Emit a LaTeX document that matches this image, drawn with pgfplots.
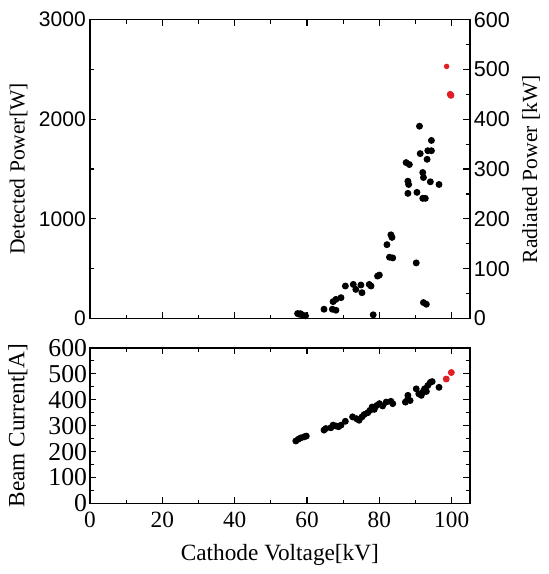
\documentclass[border=0pt]{standalone}
\usepackage{fontspec}
\setmainfont{Liberation Serif}
\newfontfamily\ticksans{Liberation Sans}
\usepackage{pgfplots}
\pgfplotsset{compat=1.18}
\usetikzlibrary{calc}
\definecolor{dotred}{RGB}{225,30,38}

\pgfplotsset{
  base/.style={
    scale only axis, width=155pt,
    xmin=0, xmax=105,
    xtick={0,20,...,100}, minor x tick num=1,
    tick align=inside,
    major tick length=2.6pt, minor tick length=1.6pt,
    every tick/.style={black, line width=0.5pt},
    axis line style={line width=0.6pt},
    x tick label style={font=\fontsize{9.5}{11}\selectfont},
    /pgf/number format/assume math mode=true,
    /pgf/number format/1000 sep={},
    scaled ticks=false,
  },
  dots/.style={only marks, mark=*, mark size=1.2pt, black},
  reddots/.style={only marks, mark=*, mark size=1.2pt, dotred},
}

\begin{document}
\begin{tikzpicture}
% detected power
\begin{axis}[base, name=top,
    height=122pt,
    ymin=0, ymax=3000,
    ytick={0,1000,2000,3000}, minor y tick num=1,
    ytick pos=left,
    xticklabels={},
    y tick label style={font=\ticksans\fontsize{8.6}{10}\selectfont, inner sep=1.5pt},
    ylabel={Detected Power[W]},
    ylabel style={font=\fontsize{8.8}{10}\selectfont, at={(axis description cs:-0.142,0.5)}, anchor=south},
]
\addplot[dots] coordinates {
(57.4,50)(57.8,43)(58.2,48)(58.7,35)(59.6,27)
(64.7,93)(67,93)(68,83)
(67.2,169)(68,192)(69.4,209)
(70.6,326)(72.8,342)(73.5,292)(74.9,336)(75.2,259)
(77.2,342)(77.7,326)(78.3,37)
(79.5,426)(80,436)
(82.1,741)(83.2,840)(83.5,814)(82.8,615)(83.7,608)
(87.4,1565)(88.3,1545)(87.9,1378)(88.1,1345)(87.9,1256)
(90.2,558)(90.4,1266)(91.1,1930)(91.3,1655)
(92.0,1465)(92.2,1415)(92.0,1206)(92.7,1206)(92.2,160)(93.0,143)
(93.2,1598)(93.4,1684)(94.4,1684)(94.4,1787)(94.1,1372)(96.5,1345)
};
\addplot[reddots, mark size=0.9pt] coordinates {(98.6,2530)};
\addplot[reddots] coordinates {(99.6,2250)(99.8,2240)};
\end{axis}
% radiated power, right scale
\begin{axis}[base,
    at={(top.south west)}, anchor=south west,
    height=122pt,
    axis x line=none, axis y line*=right,
    ymin=0, ymax=600,
    ytick={0,100,...,600}, minor y tick num=1,
    y tick label style={font=\ticksans\fontsize{8.8}{10}\selectfont, inner sep=1.5pt},
    ylabel={Radiated Power [kW]},
    ylabel style={font=\fontsize{8.8}{10}\selectfont},
]
\end{axis}
% beam current
\begin{axis}[base,
    at={($(top.south west)+(0,-12pt)$)}, anchor=north west,
    height=63.5pt,
    ymin=0, ymax=600,
    ytick={0,100,...,600}, minor y tick num=1,
    y tick label style={font=\fontsize{10.5}{12}\selectfont, inner sep=1pt},
    xlabel={Cathode Voltage[kV]},
    xlabel style={font=\fontsize{9.5}{11}\selectfont},
    ylabel={Beam Current[A]},
    ylabel style={font=\fontsize{9.5}{11}\selectfont, at={(axis description cs:-0.142,0.5)}, anchor=south},
]
\addplot[dots] coordinates {
(56.9,241)(57.6,248)(58.3,253)(59.2,257)(59.8,260)
(64.7,283)(65.2,289)
(66.6,292)(67.2,302)(68,299)(68.7,296)(69.4,302)(70.6,317)
(72.6,334)(73.7,327)(74.4,321)(75.2,334)(75.8,343)(76.8,350)
(77.4,359)(78,372)(78.6,363)(79.3,378)(80,385)(80.9,376)
(81.9,391)(83.2,394)(83.7,385)
(87.2,391)(87.9,404)(88.5,397)(87.9,417)
(90.2,442)(90.9,423)(91.6,417)(92.0,429)(92.5,442)(93,432)
(93.4,455)(94.1,467)(94.6,470)(96.5,448)
};
\addplot[reddots] coordinates {(98.5,480)(99.9,505)};
\end{axis}
% white space above the top axis, as in the original
\path ($(top.north west)+(0,8pt)$);
\end{tikzpicture}
\end{document}
